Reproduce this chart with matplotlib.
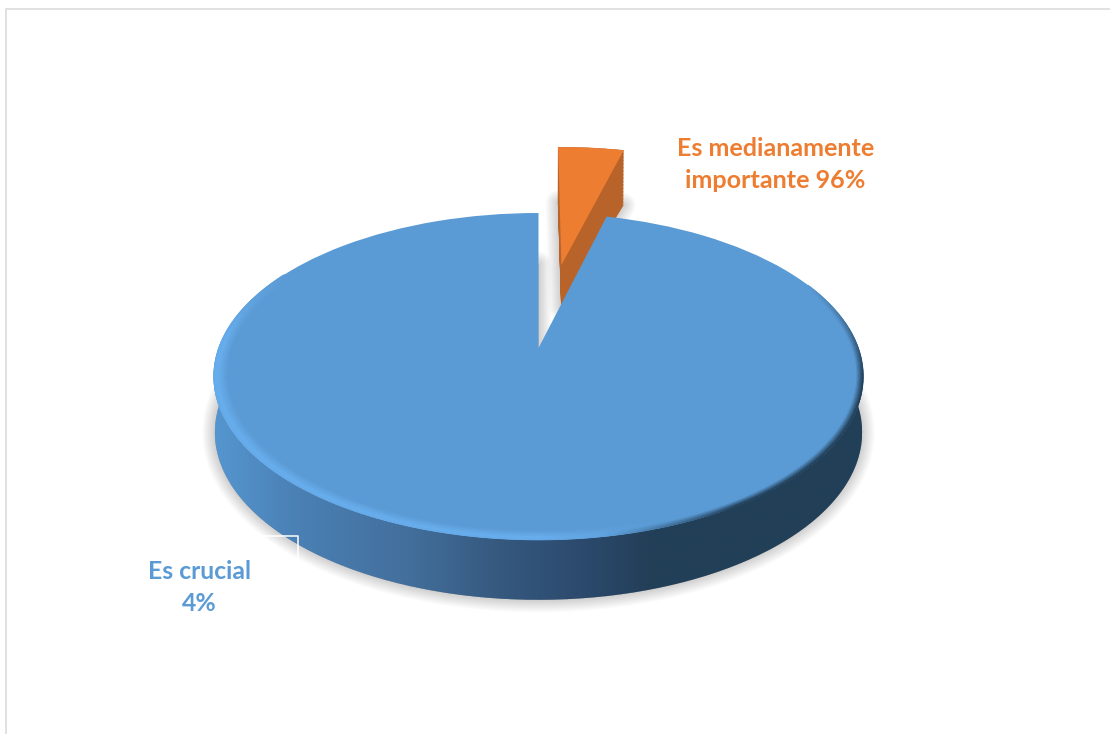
import numpy as np
import matplotlib
matplotlib.use('Agg')
import matplotlib.pyplot as plt
from matplotlib.collections import LineCollection
from matplotlib.colors import LinearSegmentedColormap, to_rgb
from matplotlib.patches import PathPatch
from matplotlib.path import Path
from matplotlib.transforms import Transform

# data
slice_shares = [4, 96]
slice_colors = ['#ed7d31', '#5b9bd5']
slice_explode = [0.58, 0]
label_orange = 'Es medianamente\nimportante 96%'
label_blue = 'Es crucial\n4%'

WALL_DARK = '#b8632a'
RIM_LIGHT = '#68aeee'
RIM_DARK = '#22405a'

# pie centre and size in pixels, K is the perspective strength
CX, CY = 538.5, 348
R, S, K = 320, 158.5, 0.174
BLUE_DEPTH = (55.1, 0.081)
ORANGE_DEPTH = (37.0, -0.204)


class Persp(Transform):
    # unit circle pie -> tilted disc, z=1 is the underside
    input_dims = 2
    output_dims = 2

    def __init__(self, z=0.0, thick=BLUE_DEPTH):
        super().__init__()
        self.z = z
        self.thick = thick

    def transform_non_affine(self, values):
        values = np.asarray(values, dtype=float)
        w = 1 + K * values[:, 1]
        d = self.thick[0] / (1 + self.thick[1] * values[:, 1])
        px = CX + R * values[:, 0] / w * (1 - 0.004 * self.z)
        py = CY - S * values[:, 1] / w + d * self.z
        return np.column_stack([px, py])


def rim(deg, r=1.0):
    a = np.radians(deg)
    return np.column_stack([r * np.cos(a), r * np.sin(a)])


fig = plt.figure(figsize=(11.1, 7.34), dpi=100)
ax = fig.add_axes([0, 0, 1, 1])
wedges, _ = ax.pie(slice_shares, colors=slice_colors, explode=slice_explode,
                   startangle=90, counterclock=False)
ax.set_aspect('auto')
ax.set_xlim(0, 1110)
ax.set_ylim(734, 0)
ax.set_axis_off()

orange, blue = wedges
orange.set_radius(1.05)
orange.set_center((orange.center[0] + 0.006, orange.center[1]))

# frame of the pasted picture
ax.plot([6, 6, 1110], [734, 8.5, 8.5], color='#dedede', lw=1.3, zorder=0)

# soft shadow under both pieces
for w_, dep in ((orange, ORANGE_DEPTH), (blue, BLUE_DEPTH)):
    for lw in np.linspace(1, 18, 12):
        ax.add_patch(PathPatch(w_.get_path(), facecolor='k', edgecolor='k', alpha=0.016,
                               lw=lw, joinstyle='round',
                               transform=Persp(1, dep) + ax.transData, zorder=1))

# exploded slice: wall is a stack of copies, then the face
for z in np.linspace(1, 0, 40):
    ax.add_patch(PathPatch(orange.get_path(), facecolor=WALL_DARK, edgecolor=WALL_DARK, lw=0.3,
                           transform=Persp(z, ORANGE_DEPTH) + ax.transData, zorder=2))
orange.set_transform(Persp(0) + ax.transData)
orange.set_zorder(3)

# blue wall with the left to right gradient
angles = np.linspace(170, 370, 300)
wall = np.vstack([Persp(1).transform_non_affine(rim(angles)),
                  Persp(0).transform_non_affine(rim(angles[::-1]))])
wall_cmap = LinearSegmentedColormap.from_list('wall', [
    (0.0, '#5596d0'), (0.13, '#4a80b4'), (0.30, '#436f9c'), (0.44, '#36597f'),
    (0.55, '#2d4c70'), (0.67, '#233f59'), (1.0, '#223f58')])
im = ax.imshow(np.linspace(0, 1, 512)[None, :], cmap=wall_cmap, aspect='auto',
               extent=(213, 862, 734, 0), zorder=4)
im.set_clip_path(Path(wall, closed=False), ax.transData)
ax.set_xlim(0, 1110)
ax.set_ylim(734, 0)

# top face
blue.set_transform(Persp(0) + ax.transData)
blue.set_zorder(5)

# bevel along the rim, light on the left and dark on the right
face = np.array(to_rgb(slice_colors[1]))
light = np.array(to_rgb(RIM_LIGHT))
dark = np.array(to_rgb(RIM_DARK))
bevel_deg = np.linspace(150, 385, 500)
mid_deg = (bevel_deg[1:] + bevel_deg[:-1]) / 2
light_amt = np.interp(mid_deg, [150, 178, 270, 288], [0, 1, 1, 0])
dark_amt = np.interp(mid_deg, [280, 302, 350, 385], [0, 1, 1, 0])
for r in np.linspace(0.998, 0.955, 15):
    light_fade = np.interp(r, [0.955, 0.985, 0.998], [0, 1, 0.8])
    dark_fade = np.interp(r, [0.976, 0.996], [0, 1])
    pts = Persp(0).transform_non_affine(rim(bevel_deg, r))
    segs = np.stack([pts[:-1], pts[1:]], axis=1)
    cols = face + (light - face) * (light_amt * light_fade)[:, None] + (dark - face) * (dark_amt * dark_fade)[:, None]
    ax.add_collection(LineCollection(segs, colors=np.clip(cols, 0, 1), lw=1.2, zorder=6,
                                     capstyle='round'))

# white leader left over from the label
ax.plot([255, 298, 298], [536, 536, 565], color='white', lw=1.1, zorder=7)

ax.text(775.5, 164.5, label_orange, color=slice_colors[0], family='Lato', weight='bold', fontsize=18.1,
        ha='center', va='center', linespacing=1.45, multialignment='center', zorder=8)
ax.text(199, 587.5, label_blue, color=slice_colors[1], family='Lato', weight='bold', fontsize=17.8,
        ha='center', va='center', linespacing=1.47, multialignment='center', zorder=8)

fig.savefig('out.png', dpi=100)
